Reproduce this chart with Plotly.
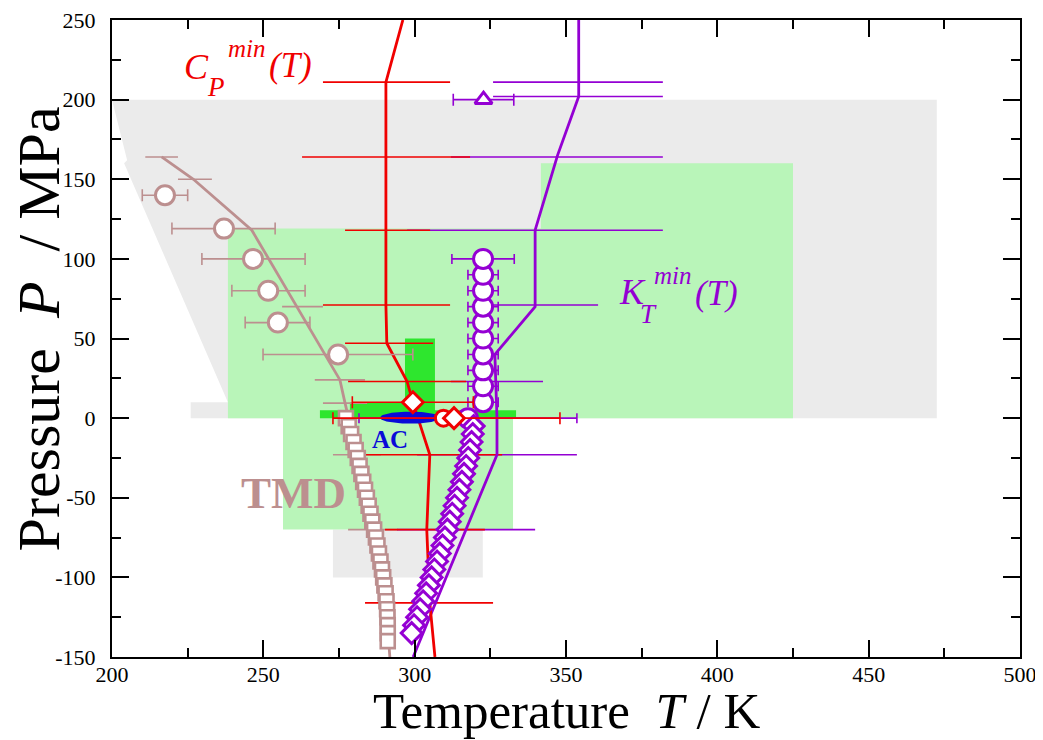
import numpy as np
import plotly.graph_objects as go

FONT = "Liberation Serif"
RED = "#f00000"
PURPLE = "#9400d3"
ROSY = "#bc8f8f"
GRAY = "#ebebeb"
LGREEN = "#b9f5b9"
BGREEN = "#2ee62e"
BLUE = "#0a0ad8"

# ---------------- data ----------------
x_ticks = [200, 250, 300, 350, 400, 450, 500]
x_labels = ["200", "250", "300", "350", "400", "450", "500"]
y_ticks = [-150, -100, -50, 0, 50, 100, 150, 200, 250]
y_labels = ["-150", "-100", "-50", "0", "50", "100", "150", "200", "250"]

# shaded regions (corner points, T in K, P in MPa)
gray_T = [200.0, 205.0, 204.0, 238.3, 226.0, 226.0, 472.5, 472.5]
gray_P = [200, 162, 160, 10, 10, 0, 0, 200]
graybox_T = [273.0, 322.5, 322.5, 273.0]
graybox_P = [-100, -100, -70, -70]
lgreen_T = [238.3, 341.7, 341.7, 425.0, 425.0, 332.5, 332.5, 256.5, 256.5, 238.3]
lgreen_P = [119, 119, 160, 160, 0, 0, -70, -70, 0, 0]
bgreen_T = [268.7, 333.5, 333.5, 306.7, 306.7, 296.8, 296.8, 278.6, 278.6, 268.7]
bgreen_P = [0, 0, 5, 5, 50, 50, 10, 10, 5, 5]

# AC ellipse (centre and half-axes)
ac_T, ac_P = 298.5, 0.3
ac_dT, ac_dP = 10.0, 3.8

# C_P^min(T) line
cp_T = [296.1, 290.5, 290.5, 290.5, 290.5, 290.8, 297.5, 299.4, 305.0, 304.0, 305.0, 306.7]
cp_P = [250, 211, 164, 118, 71, 47, 23, 10, -23, -70, -116, -150]
cp_bar_P = [211, 164, 118, 71, 47, 23, -23, -70, -116]
cp_bar_lo = [269.7, 262.8, 277.0, 269.7, 277.0, 278.0, 281.3, 290.2, 283.6]
cp_bar_hi = [311.7, 318.3, 305.1, 311.7, 306.1, 317.0, 328.9, 323.2, 325.9]

# K_T^min(T) line
kt_T = [354.2, 354.2, 347.2, 339.8, 339.8, 326.5, 327.2, 327.2, 299.5]
kt_P = [250, 202, 165, 118, 70, 40, 0, -23, -150]
kt_bar_P = [211, 202, 164, 118, 71, 23, -23, -70]
kt_bar_lo = [325.9, 325.9, 312.0, 297.5, 318.9, 312.0, 300.8, 294.2]
kt_bar_hi = [382.0, 382.0, 382.0, 382.0, 360.6, 342.4, 353.6, 339.8]

# TMD line
tmd_T = [216.4, 226.9, 246.2, 261.1, 275.3, 277.0, 281.0, 286.0, 290.5, 291.8]
tmd_P = [164, 150, 118, 70, 24, 9.4, -23, -70, -116, -150]
tmd_bar_P = [164, 150, 70, 24, 9.4, -23, -70]
tmd_bar_lo = [211.0, 221.8, 256.2, 267.0, 269.7, 273.0, 278.0]
tmd_bar_hi = [221.8, 233.0, 269.7, 283.6, 284.3, 288.9, 294.5]

# TMD experimental circles
tmdc_T = [217.5, 237.0, 246.6, 251.6, 254.8, 274.7]
tmdc_P = [140, 119, 100, 80, 60, 40]
tmdc_em = [7.5, 17.2, 16.9, 12.0, 10.8, 24.8]
tmdc_ep = [7.5, 16.9, 17.2, 12.2, 10.6, 24.7]

# TMD simulation squares
tmds_P = [0, -5, -10, -15, -20, -25, -30, -35, -40, -45, -50, -55, -60, -65, -70,
          -75, -80, -85, -90, -95, -100, -105, -110, -115, -120, -125, -130, -135, -140]
tmds_T = [277.3, 278.2, 279.0, 279.8, 280.5, 281.2, 281.8, 282.4, 283.0, 283.6, 284.2,
          284.8, 285.4, 286.0, 286.6, 287.2, 287.7, 288.2, 288.7, 289.2, 289.6, 290.0,
          290.4, 290.7, 290.9, 291.0, 291.1, 291.1, 291.1]

# K_T minimum circles
ktc_T = [317.6, 322.6, 322.6, 322.6, 322.6, 322.6, 322.6, 322.6, 322.6, 322.6, 322.6]
ktc_P = [0, 10, 20, 30, 40, 50, 60, 70, 80, 90, 100]
ktc_err = [36.0, 5.0, 5.0, 5.0, 5.0, 5.0, 5.0, 5.0, 5.0, 5.0, 10.3]

# K_T minimum triangle
ktt_T, ktt_P, ktt_err = [322.75], [200], [10.0]

# K_T minimum diamonds
ktd_P = [-5, -10, -15, -20, -25, -30, -35, -40, -45, -50, -55, -60, -65, -70, -75,
         -80, -85, -90, -95, -100, -105, -110, -115, -120, -125, -130, -135]
ktd_T = [319.5, 319.2, 318.8, 318.3, 317.7, 317.0, 316.3, 315.6, 314.8, 314.0, 313.2,
         312.4, 311.6, 310.8, 310.0, 309.2, 308.3, 307.4, 306.5, 305.6, 304.7, 303.8,
         302.8, 301.8, 300.8, 299.8, 299.0]

# C_P minimum points
cpc_T, cpc_P, cpc_em, cpc_ep = [309.5], [0], [36.5], [38.5]
cpd_T, cpd_P, cpd_err = [299.4, 313.0], [10, 0], [20.0, 0.0]

fig = go.Figure()


def poly(T, P, color):
    fig.add_trace(go.Scatter(x=list(T) + [T[0]], y=list(P) + [P[0]], mode="lines",
                             fill="toself", fillcolor=color, line=dict(width=0),
                             hoverinfo="skip", showlegend=False))


def segs(P_list, lo, hi, color, width=1.6):
    xs, ys = [], []
    for p, a, b in zip(P_list, lo, hi):
        xs += [a, b, None]
        ys += [p, p, None]
    fig.add_trace(go.Scatter(x=xs, y=ys, mode="lines", line=dict(color=color, width=width),
                             hoverinfo="skip", showlegend=False))


def line(T, P, color, width=2.8):
    fig.add_trace(go.Scatter(x=T, y=P, mode="lines", line=dict(color=color, width=width),
                             hoverinfo="skip", showlegend=False))


def pts(T, P, symbol, size, color, lw, em=None, ep=None, cap=5):
    kw = {}
    if ep is not None:
        kw["error_x"] = dict(type="data", symmetric=False, array=ep,
                             arrayminus=em if em is not None else ep,
                             color=color, thickness=1.6, width=cap)
    fig.add_trace(go.Scatter(x=T, y=P, mode="markers",
                             marker=dict(symbol=symbol, size=size, color="white",
                                         line=dict(color=color, width=lw)),
                             hoverinfo="skip", showlegend=False, **kw))


# regions
poly(gray_T, gray_P, GRAY)
poly(graybox_T, graybox_P, GRAY)
poly(lgreen_T, lgreen_P, LGREEN)
poly(bgreen_T, bgreen_P, BGREEN)

# error-bar segments
segs(tmd_bar_P, tmd_bar_lo, tmd_bar_hi, ROSY)
segs(kt_bar_P, kt_bar_lo, kt_bar_hi, PURPLE)
segs(cp_bar_P, cp_bar_lo, cp_bar_hi, RED)

# lines
line(tmd_T, tmd_P, ROSY)
line(kt_T, kt_P, PURPLE)
line(cp_T, cp_P, RED)

# AC ellipse
th = np.linspace(0, 2 * np.pi, 80)
fig.add_trace(go.Scatter(x=ac_T + ac_dT * np.cos(th), y=ac_P + ac_dP * np.sin(th),
                         mode="lines", fill="toself", fillcolor=BLUE,
                         line=dict(color=BLUE, width=0), hoverinfo="skip", showlegend=False))

# markers
pts(tmdc_T, tmdc_P, "circle", 19, ROSY, 3, tmdc_em, tmdc_ep, cap=6)
pts(tmds_T, tmds_P, "square", 14, ROSY, 2.6)
pts(ktc_T, ktc_P, "circle", 19, PURPLE, 3, ktc_err, ktc_err, cap=5)
pts(ktt_T, ktt_P, "triangle-up", 15, PURPLE, 3, ktt_err, ktt_err, cap=6)
pts(ktd_T, ktd_P, "diamond", 16, PURPLE, 3)
pts(cpc_T, cpc_P, "circle", 16, RED, 3, cpc_em, cpc_ep, cap=6)
pts(cpd_T, cpd_P, "diamond", 16, RED, 3, cpd_err, cpd_err, cap=6)

# text labels
ann = [
    ("C", 227.8, 220.4, 36, RED),
    ("P", 234.4, 208.0, 27, RED),
    ("min", 244.6, 232.3, 25, RED),
    ("(T)", 259.1, 221.6, 35, RED),
    ("K", 372.1, 79.1, 36, PURPLE),
    ("T", 377.3, 65.7, 27, PURPLE),
    ("min", 385.4, 89.8, 25, PURPLE),
    ("(T)", 399.6, 78.5, 35, PURPLE),
]
for txt, x, y, s, c in ann:
    fig.add_annotation(x=x, y=y, xref="x", yref="y", text=f"<i>{txt}</i>", showarrow=False,
                       font=dict(family=FONT, size=s, color=c), xanchor="center", yanchor="middle")
fig.add_annotation(x=260.1, y=-47, xref="x", yref="y", text="<b>TMD</b>", showarrow=False,
                   font=dict(family=FONT, size=45, color=ROSY))
fig.add_annotation(x=291.7, y=-13.5, xref="x", yref="y", text="<b>AC</b>", showarrow=False,
                   font=dict(family=FONT, size=25, color=BLUE))

# axis titles
fig.add_annotation(x=0.5, y=-0.084, xref="paper", yref="paper",
                   text="Temperature&nbsp;&nbsp;<i>T</i> / K", showarrow=False,
                   font=dict(family=FONT, size=51, color="black"),
                   xanchor="center", yanchor="middle")
fig.add_annotation(x=-0.081, y=0.515, xref="paper", yref="paper",
                   text="Pressure&nbsp;&nbsp;<i>P</i>&nbsp;&nbsp;/ MPa", showarrow=False,
                   textangle=-90, font=dict(family=FONT, size=60, color="black"),
                   xanchor="center", yanchor="middle")

axis_common = dict(ticks="inside", ticklen=17, tickwidth=1.5, tickcolor="black",
                   showline=True, linewidth=2, linecolor="black", mirror="allticks",
                   showgrid=False, zeroline=False, automargin=False,
                   ticklabeloverflow="allow",
                   tickfont=dict(family=FONT, size=22, color="black"))
fig.update_xaxes(range=[200, 500], tickmode="array", tickvals=x_ticks, ticktext=x_labels,
                 minor=dict(dtick=25, tick0=200, ticks="inside", ticklen=9, tickwidth=1.5,
                            tickcolor="black"),
                 ticklabelstandoff=-3, **axis_common)
fig.update_yaxes(range=[-150, 250], tickmode="array", tickvals=y_ticks, ticktext=y_labels,
                 minor=dict(dtick=25, tick0=-150, ticks="inside", ticklen=9, tickwidth=1.5,
                            tickcolor="black"),
                 ticklabelstandoff=10, **axis_common)

# the page adds an 8px body margin; the figure is sized so its plot area
# lands at the reference position and still reaches the window's right/bottom edges
fig.update_layout(width=1035, height=732, margin=dict(l=104, r=23, t=12, b=83),
                  plot_bgcolor="white", paper_bgcolor="white", showlegend=False,
                  font=dict(family=FONT))

fig.write_html("out.html")
